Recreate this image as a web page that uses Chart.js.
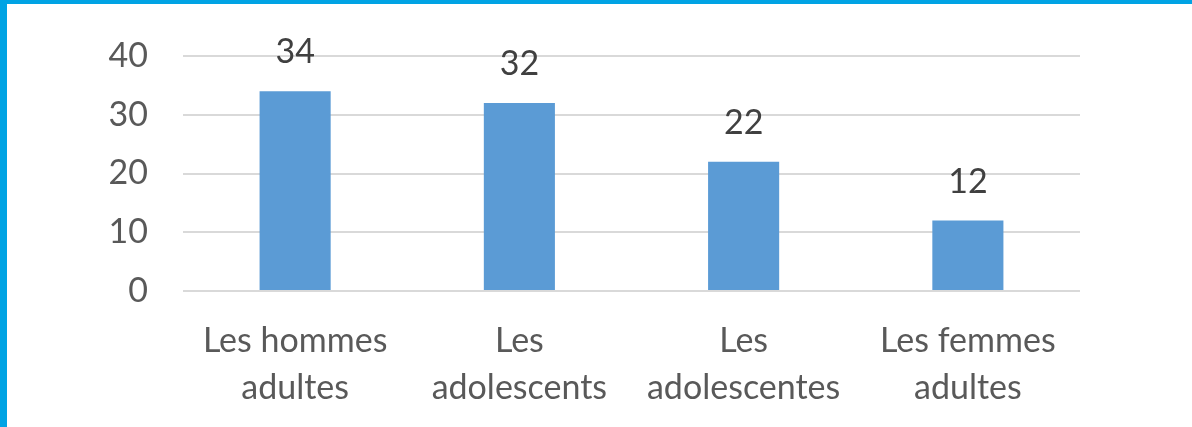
<!DOCTYPE html>
<html>
<head>
<meta charset="utf-8">
<script src="https://cdn.jsdelivr.net/npm/chart.js@4/dist/chart.umd.min.js"></script>
<style>
  html, body { margin: 0; padding: 0; background: #fff; }
  #wrap { position: relative; width: 1192px; height: 427px; overflow: hidden; }
  #wrap canvas { position: absolute; left: 0; top: 0; }
  .edge { position: absolute; background: #00A3E4; }
</style>
</head>
<body>
<div id="wrap">
  <canvas id="barChart" width="1192" height="427"></canvas>
  <div class="edge" style="left:0;top:0;width:1192px;height:4px"></div>
  <div class="edge" style="left:0;top:0;width:7px;height:427px"></div>
</div>
<script>
const categories = [
  ["Les hommes", "adultes"],
  ["Les", "adolescents"],
  ["Les", "adolescentes"],
  ["Les femmes", "adultes"],
];
const counts = [34, 32, 22, 12];
const yTicks = [0, 10, 20, 30, 40];

const FONT = "Lato, 'Open Sans', sans-serif";

// writes each bar's value above it
const valueLabels = {
  id: "valueLabels",
  afterDatasetsDraw(chart) {
    const ctx = chart.ctx;
    const meta = chart.getDatasetMeta(0);
    ctx.save();
    ctx.font = `34px ${FONT}`;
    ctx.fillStyle = "#404040";
    ctx.textAlign = "center";
    ctx.textBaseline = "alphabetic";
    meta.data.forEach((bar, i) => {
      ctx.fillText(String(counts[i]), bar.x, bar.y - 28);
    });
    ctx.restore();
  },
};

new Chart(document.getElementById("barChart"), {
  type: "bar",
  data: {
    labels: categories,
    datasets: [
      {
        label: "",
        data: counts,
        backgroundColor: "#5B9BD5",
        categoryPercentage: 1,
        barPercentage: 0.317,
      },
    ],
  },
  options: {
    responsive: false,
    animation: false,
    layout: { padding: { top: 56, right: 112, bottom: 0, left: 0 } },
    plugins: {
      legend: { display: false },
      tooltip: { enabled: false },
    },
    scales: {
      x: {
        grid: { display: false, drawTicks: false },
        border: { display: false },
        ticks: {
          color: "#595959",
          font: { family: FONT, size: 34, lineHeight: 1.38 },
          padding: 27,
          maxRotation: 0,
          autoSkip: false,
        },
        afterFit(scale) { scale.height = 136; },
      },
      y: {
        min: 0,
        max: 40,
        afterBuildTicks(scale) {
          scale.ticks = yTicks.map((v) => ({ value: v }));
        },
        grid: { color: "#D9D9D9", lineWidth: 2, drawTicks: false },
        border: { display: false },
        ticks: {
          color: "#595959",
          font: { family: FONT, size: 34 },
          padding: 35,
        },
        afterFit(scale) { scale.width = 183; },
      },
    },
  },
  plugins: [valueLabels],
});
</script>
</body>
</html>
